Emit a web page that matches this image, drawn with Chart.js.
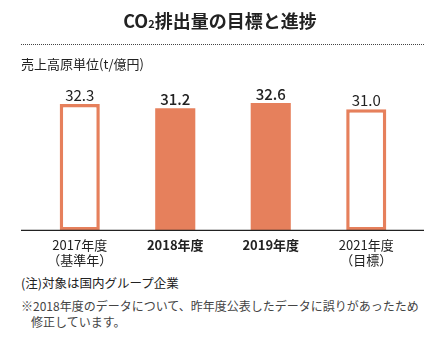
<!DOCTYPE html>
<html>
<head>
<meta charset="utf-8">
<script src="https://cdn.jsdelivr.net/npm/chart.js@4"></script>
<style>
  body { margin: 0; background: #fff; font-family: "Noto Sans CJK JP", sans-serif; color: #222; }
  #wrap { position: relative; width: 440px; height: 350px; }
  #title { position: absolute; left: 0; width: 440px; top: 7px; text-align: center; font-size: 18px; font-weight: bold; color: #222; }
  #title sub { font-size: 11px; vertical-align: baseline; }
  #dots { position: absolute; left: 21px; width: 403px; top: 44px; border-top: 1px dotted #444; }
  #unit { position: absolute; left: 21px; top: 54px; font-size: 13px; color: #222; }
  #chartBox { position: absolute; left: 0; top: 0; width: 440px; height: 272px; }
  #note1 { position: absolute; left: 21px; top: 273px; font-size: 12.5px; color: #222; }
  #note2 { position: absolute; left: 21px; top: 298px; font-size: 12px; color: #444; line-height: 16px; }
  #note2 span { padding-left: 10px; }
</style>
</head>
<body>
<div id="wrap">
  <div id="chartBox"><canvas id="js-canvas-co2"></canvas></div>
  <div id="title">CO<sub>2</sub>排出量の目標と進捗</div>
  <div id="dots"></div>
  <div id="unit">売上高原単位(t/億円)</div>
  <div id="note1">(注)対象は国内グループ企業</div>
  <div id="note2">※2018年度のデータについて、昨年度公表したデータに誤りがあったため<br><span>修正しています。</span></div>
</div>
<script>
// labels along the x-axis
const years = [['2017年度', '（基準年）'], ['2018年度'], ['2019年度'], ['2021年度', '（目標）']];
// CO2 per sales (t / 100M yen)
const values = [32.3, 31.2, 32.6, 31.0];
// which bars are actual results (filled) vs base / target (outlined)
const isActual = [false, true, true, false];

const orange = '#e6805c';

const labelPlugin = {
  id: 'valueLabels',
  afterDatasetsDraw(chart) {
    const c = chart.ctx;
    const meta = chart.getDatasetMeta(0);
    c.save();
    c.textAlign = 'center';
    c.textBaseline = 'alphabetic';
    c.fillStyle = '#222';
    meta.data.forEach((bar, i) => {
      c.font = (isActual[i] ? '500 ' : '400 ') + '15px "Noto Sans CJK JP"';
      c.fillText(values[i].toFixed(1), bar.x, bar.y - 3);
    });
    // base line, a bit wider than the plot area
    c.strokeStyle = '#222';
    c.lineWidth = 1.2;
    c.beginPath();
    c.moveTo(21, chart.chartArea.bottom);
    c.lineTo(424, chart.chartArea.bottom);
    c.stroke();
    c.restore();
  }
};

const ctx = document.getElementById('js-canvas-co2');
new Chart(ctx, {
  type: 'bar',
  data: {
    labels: years,
    datasets: [{
      data: values,
      backgroundColor: isActual.map(a => a ? orange : '#fff'),
      borderColor: orange,
      borderWidth: isActual.map(a => a ? 0 : 3.5),
      borderSkipped: false,
      categoryPercentage: 1,
      barPercentage: 0.42
    }]
  },
  options: {
    responsive: true,
    maintainAspectRatio: false,
    animation: false,
    layout: { padding: { left: 32, right: 26, top: 89.6, bottom: 5 } },
    plugins: { legend: { display: false }, tooltip: { enabled: false }, title: { display: false } },
    scales: {
      y: { display: false, min: 0, max: 36 },
      x: {
        grid: { display: false },
        border: { display: false },
        ticks: {
          padding: 0,
          color: '#222',
          font: c => ({ family: 'Noto Sans CJK JP', size: 13, weight: isActual[c.index] ? 'bold' : 'normal', lineHeight: 1.1 })
        }
      }
    }
  },
  plugins: [labelPlugin]
});
</script>
</body>
</html>
